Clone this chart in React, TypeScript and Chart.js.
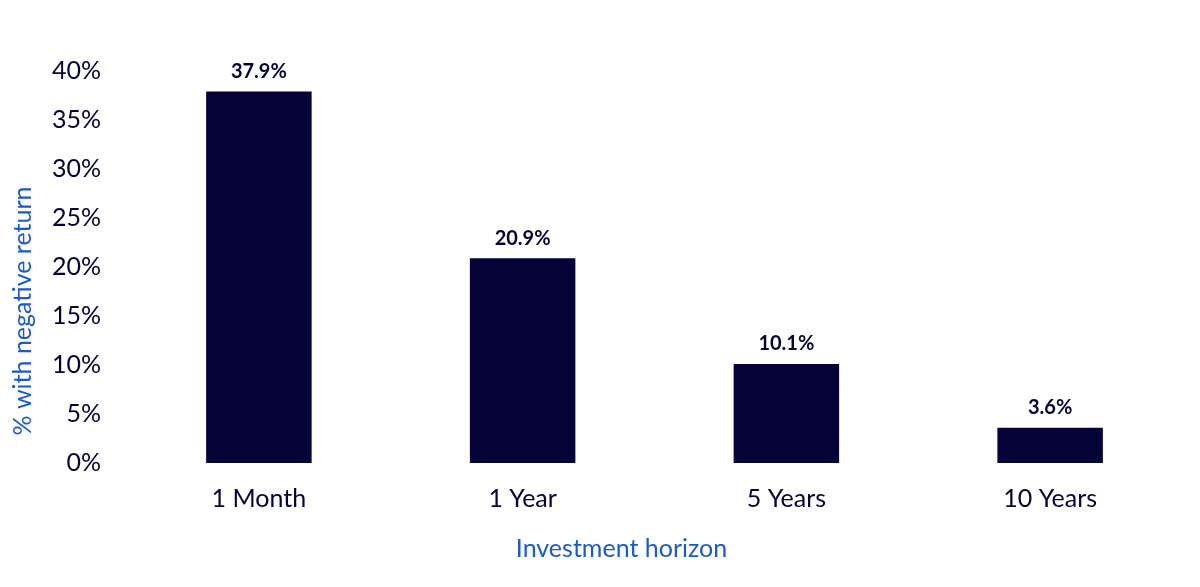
import { useEffect, useRef } from 'react'
import { Chart, ChartConfiguration, Plugin, registerables } from 'chart.js'

Chart.register(...registerables)

const horizons = ['1 Month', '1 Year', '5 Years', '10 Years']
const negativeShare = [37.9, 20.9, 10.1, 3.6]
const xTitle = 'Investment horizon'
const yTitle = '% with negative return'

const NAVY = '#060338'
const BLUE = '#1a5acb'
const FONT = 'Lato, "Open Sans", sans-serif'

// draws the value above each bar
const valueLabels: Plugin<'bar'> = {
  id: 'valueLabels',
  afterDatasetsDraw(chart) {
    const { ctx } = chart
    const meta = chart.getDatasetMeta(0)
    ctx.save()
    ctx.font = `bold 20px ${FONT}`
    ctx.fillStyle = NAVY
    ctx.textAlign = 'center'
    ctx.textBaseline = 'bottom'
    meta.data.forEach((bar, i) => {
      ctx.fillText(negativeShare[i].toFixed(1) + '%', bar.x, bar.y - 10)
    })
    ctx.restore()
  },
}

// axis titles, placed off-centre like the original
const axisTitles: Plugin<'bar'> = {
  id: 'axisTitles',
  afterDraw(chart) {
    const { ctx, chartArea } = chart
    const midX = (chartArea.left + chartArea.right) / 2
    const midY = (chartArea.top + chartArea.bottom) / 2
    ctx.save()
    ctx.font = `25px ${FONT}`
    ctx.fillStyle = BLUE
    ctx.textAlign = 'center'
    ctx.textBaseline = 'middle'
    ctx.fillText(xTitle, midX - 33, chart.height - 38)
    ctx.translate(23, midY + 44)
    ctx.rotate(-Math.PI / 2)
    ctx.fillText(yTitle, 0, 0)
    ctx.restore()
  },
}

export default function App() {
  const canvasRef = useRef<HTMLCanvasElement>(null)
  const chartRef = useRef<Chart | null>(null)

  useEffect(() => {
    document.body.style.margin = '0'
    if (!canvasRef.current) return
    const ctx = canvasRef.current.getContext('2d')
    if (!ctx) return

    if (chartRef.current) chartRef.current.destroy()

    const config: ChartConfiguration<'bar'> = {
      type: 'bar',
      data: {
        labels: horizons,
        datasets: [
          {
            label: yTitle,
            data: negativeShare,
            backgroundColor: NAVY,
            barPercentage: 0.4,
            categoryPercentage: 1,
          },
        ],
      },
      options: {
        responsive: true,
        maintainAspectRatio: false,
        animation: false,
        layout: { padding: { top: 71, right: 18, left: 8, bottom: 52 } },
        plugins: {
          legend: { display: false },
          tooltip: { enabled: false },
        },
        scales: {
          x: {
            grid: { display: false, drawTicks: false },
            border: { display: false },
            ticks: { color: NAVY, font: { family: FONT, size: 25 }, padding: 21 },
          },
          y: {
            min: 0,
            max: 40,
            grid: { display: false, drawTicks: false },
            border: { display: false },
            afterFit: (scale) => {
              scale.width = 119
            },
            ticks: {
              stepSize: 5,
              color: NAVY,
              font: { family: FONT, size: 25 },
              padding: 26,
              callback: (v) => v + '%',
            },
          },
        },
      },
      plugins: [valueLabels, axisTitles],
    }

    chartRef.current = new Chart(ctx, config)
    return () => {
      chartRef.current?.destroy()
    }
  }, [])

  return (
    <div style={{ width: 1200, height: 587 }}>
      <canvas ref={canvasRef} />
    </div>
  )
}
